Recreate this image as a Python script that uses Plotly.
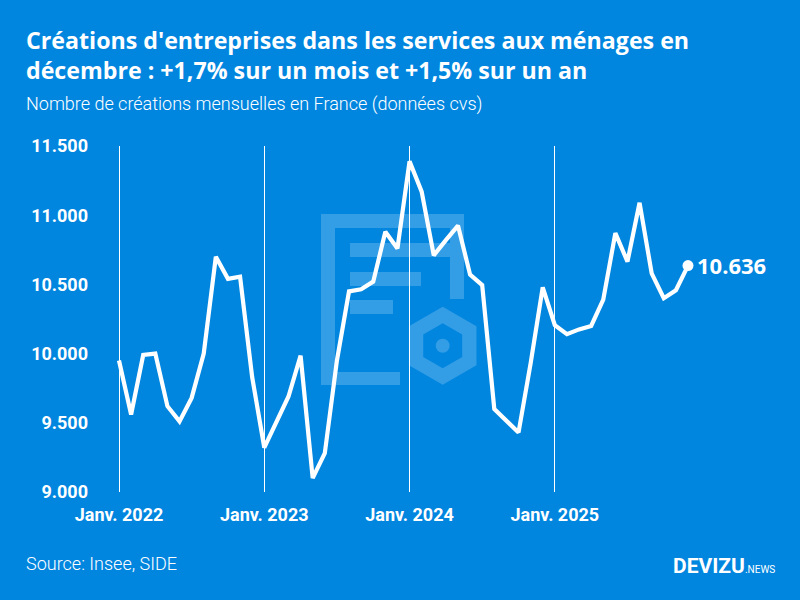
import plotly.graph_objects as go
import math

# ---- data ----
months = [f"{y}-{m:02d}" for y in (2022, 2023, 2024, 2025) for m in range(1, 13)]
values = [9950, 9560, 9990, 10000, 9620, 9510, 9680, 10000, 10700, 10540, 10555, 9830,
          9320, 9510, 9690, 9985, 9100, 9280, 9950, 10450, 10465, 10520, 10880, 10760,
          11390, 11170, 10710, 10820, 10925, 10570, 10495, 9600, 9520, 9430, 9930, 10478,
          10205, 10140, 10175, 10200, 10390, 10870, 10665, 11090, 10580, 10400, 10458, 10636]
tick_months = ["2022-01", "2023-01", "2024-01", "2025-01"]
tick_labels = ["Janv. 2022", "Janv. 2023", "Janv. 2024", "Janv. 2025"]
y_ticks = [9000, 9500, 10000, 10500, 11000, 11500]
y_tick_labels = ["9.000", "9.500", "10.000", "10.500", "11.000", "11.500"]
last_label = "10.636"

BG = "#0186E0"
W, H = 800, 600
L, R, T, B = 105, 25, 146, 108
PW, PH = W - L - R, H - T - B

def px(x):
    return (x - L) / PW

def py(y):
    return (H - B - y) / PH

x_idx = list(range(len(months)))
step = (688 - 119) / 47
r0 = -(119 - L) / step
r1 = r0 + PW / step

fig = go.Figure()
fig.add_trace(go.Scatter(x=x_idx, y=values, mode="lines",
                         line=dict(color="white", width=4.2),
                         hoverinfo="skip", showlegend=False))
fig.add_trace(go.Scatter(x=[x_idx[-1]], y=[values[-1]], mode="markers",
                         marker=dict(color="white", size=11),
                         hoverinfo="skip", showlegend=False))

# watermark logo
wm = "rgba(255,255,255,0.2)"
rects = [(321, 214, 464, 228), (321, 228, 335, 372), (321, 372, 400, 385),
         (450, 228, 464, 299), (350, 243, 450, 257), (350, 272, 421, 286),
         (350, 300, 393, 314)]
shapes = []
for x0, y0, x1, y1 in rects:
    shapes.append(dict(type="rect", xref="paper", yref="paper", x0=px(x0), x1=px(x1),
                       y0=py(y1), y1=py(y0), fillcolor=wm, line=dict(width=0),
                       layer="between"))
cx, cy = 442.7, 345.7
def hexpath(r):
    pts = []
    for k in range(6):
        a = math.radians(90 + 60 * k)
        pts.append((px(cx + r * math.cos(a)), py(cy - r * math.sin(a))))
    return "M" + " L".join(f"{a:.5f},{b:.5f}" for a, b in pts) + " Z"
shapes.append(dict(type="path", xref="paper", yref="paper",
                   path=hexpath(39) + " " + hexpath(22.5), fillrule="evenodd",
                   fillcolor=wm, line=dict(width=0), layer="between"))
shapes.append(dict(type="circle", xref="paper", yref="paper",
                   x0=px(cx - 7), x1=px(cx + 7), y0=py(cy + 7), y1=py(cy - 7),
                   fillcolor=wm, line=dict(width=0), layer="between"))

FONT = "Roboto"
TFONT = "Open Sans"
ann = []
ann.append(dict(xref="paper", yref="paper", x=px(24), y=py(22), xanchor="left", yanchor="top",
                align="left", showarrow=False,
                text="<b>Créations d'entreprises dans les services aux ménages en<br>décembre : +1,7% sur un mois et +1,5% sur un an</b>",
                font=dict(family=TFONT, size=23.2, color="white")))
ann.append(dict(xref="paper", yref="paper", x=px(24), y=py(91), xanchor="left", yanchor="top",
                align="left", showarrow=False,
                text="Nombre de créations mensuelles en France (données cvs)",
                font=dict(family=FONT, size=18, color="white", weight=300)))
ann.append(dict(xref="paper", yref="paper", x=px(24), y=py(563), xanchor="left", yanchor="middle",
                align="left", showarrow=False, text="Source: Insee, SIDE",
                font=dict(family=FONT, size=18, color="white", weight=300)))
ann.append(dict(xref="paper", yref="paper", x=px(777), y=py(566), xanchor="right", yanchor="middle",
                align="right", showarrow=False,
                text="<b>DEVIZU</b><span style='font-size:10px'>.NEWS</span>",
                font=dict(family=FONT, size=21, color="white")))
ann.append(dict(x=x_idx[-1], y=values[-1], xref="x", yref="y", xanchor="left", yanchor="middle",
                xshift=7, yshift=1, showarrow=False, text=f"<b>{last_label}</b>",
                font=dict(family=TFONT, size=22, color="white")))

fig.update_layout(
    width=W, height=H, paper_bgcolor=BG, plot_bgcolor=BG,
    margin=dict(l=L, r=R, t=T, b=B, autoexpand=False),
    shapes=shapes, annotations=ann, showlegend=False,
    xaxis=dict(range=[r0, r1], tickvals=[months.index(m) for m in tick_months],
               ticktext=[f"<b>{t}</b>" for t in tick_labels], showgrid=True,
               gridcolor="white", gridwidth=1, zeroline=False, showline=False,
               ticks="", ticklabelstandoff=10, fixedrange=True,
               tickfont=dict(family=FONT, size=18, color="white")),
    yaxis=dict(range=[9000, 11500], tickvals=y_ticks,
               ticktext=[f"<b>{t}</b>" for t in y_tick_labels], showgrid=False,
               zeroline=False, showline=False, ticks="", ticklabelstandoff=16,
               fixedrange=True,
               tickfont=dict(family=FONT, size=18, color="white")),
)
fig.write_html("out.html", config={"displayModeBar": False, "staticPlot": True},
               post_script="document.body.style.margin='0';document.body.style.background='" + BG + "';")
